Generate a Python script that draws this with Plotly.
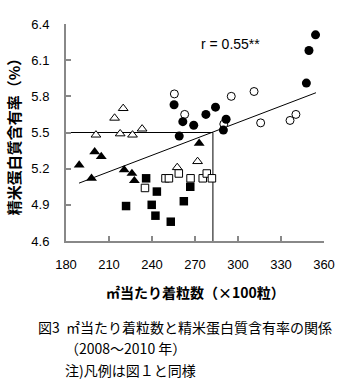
import plotly.graph_objects as go

# ---- data ----
open_tri_x = [200.9, 213.9, 219.9, 217.8, 226.4, 233.1, 257.6, 271.8]
open_tri_y = [5.48, 5.62, 5.70, 5.49, 5.48, 5.53, 5.21, 5.26]

fill_tri_x = [189.2, 200.0, 204.6, 197.8, 220.6, 226.0, 227.7, 272.9]
fill_tri_y = [5.23, 5.34, 5.30, 5.12, 5.19, 5.16, 5.10, 5.41]

fill_sq_x = [235.9, 243.4, 221.9, 239.8, 242.4, 253.1, 262.2, 266.7]
fill_sq_y = [5.12, 5.01, 4.89, 4.90, 4.81, 4.76, 4.93, 5.05]

open_sq_x = [235.1, 249.4, 251.8, 258.7, 266.9, 275.4, 278.2, 281.8]
open_sq_y = [5.04, 5.12, 5.12, 5.16, 5.12, 5.12, 5.16, 5.12]

open_ci_x = [255.6, 262.8, 295.3, 290.1, 311.2, 315.8, 336.3, 340.4]
open_ci_y = [5.82, 5.65, 5.80, 5.57, 5.84, 5.58, 5.60, 5.65]

fill_ci_x = [255.4, 261.5, 269.1, 277.6, 284.3, 291.7, 289.8, 259.0, 347.7, 349.5, 354.1]
fill_ci_y = [5.73, 5.59, 5.56, 5.65, 5.71, 5.61, 5.52, 5.47, 5.91, 6.18, 6.31]

trend_x = [189.1, 354.4]
trend_y = [5.08, 5.83]

ref_x = 282.5   # vertical reference value
ref_y = 5.5     # horizontal reference value

x_ticks = [180, 210, 240, 270, 300, 330, 360]
y_ticks = [4.6, 4.9, 5.2, 5.5, 5.8, 6.1, 6.4]
x_range = [180, 360]
y_range = [4.6, 6.4]

r_label = "r = 0.55**"
x_title = "㎡当たり着粒数（×100粒）"
y_title = "精米蛋白質含有率（%）"
caption = ["図3  ㎡当たり着粒数と精米蛋白質含有率の関係",
           "（2008～2010 年）",
           "注)凡例は図１と同様"]

# ---- figure ----
fig = go.Figure()

# reference lines
fig.add_trace(go.Scatter(x=[x_range[0], ref_x, ref_x], y=[ref_y, ref_y, y_range[0]],
                         mode="lines", line=dict(color="black", width=1),
                         hoverinfo="skip", showlegend=False))
# regression line
fig.add_trace(go.Scatter(x=trend_x, y=trend_y, mode="lines",
                         line=dict(color="black", width=1),
                         hoverinfo="skip", showlegend=False))

def add_pts(x, y, symbol, size, filled):
    fig.add_trace(go.Scatter(
        x=x, y=y, mode="markers", showlegend=False, cliponaxis=False,
        marker=dict(symbol=symbol, size=size,
                    color="black" if filled else "white",
                    line=dict(color="black", width=0 if filled else 1))))

add_pts(open_tri_x, open_tri_y, "triangle-up", 8.5, False)
add_pts(fill_tri_x, fill_tri_y, "triangle-up", 9.5, True)
add_pts(open_sq_x, open_sq_y, "square", 7.5, False)
add_pts(fill_sq_x, fill_sq_y, "square", 8.5, True)
add_pts(open_ci_x, open_ci_y, "circle", 8, False)
add_pts(fill_ci_x, fill_ci_y, "circle", 9, True)

axis_color = "#888888"
tick_font = dict(family="Liberation Sans, Arial, sans-serif", size=13, color="black")

fig.update_xaxes(range=x_range, tickvals=x_ticks, ticktext=[str(v) for v in x_ticks],
                 showgrid=False, zeroline=False, showline=True, linecolor=axis_color,
                 linewidth=2, ticks="inside", ticklen=5, tickwidth=1.5, tickcolor=axis_color,
                 tickfont=tick_font, ticklabelstandoff=10)
fig.update_yaxes(range=y_range, tickvals=y_ticks, ticktext=[f"{v:.1f}" for v in y_ticks],
                 showgrid=False, zeroline=False, showline=True, linecolor=axis_color,
                 linewidth=2, ticks="inside", ticklen=5, tickwidth=1.5, tickcolor=axis_color,
                 tickfont=tick_font, ticklabelstandoff=12)

cjk = "Noto Sans CJK JP, sans-serif"
W, H = 347, 389
L, R, T, B = 66, 17, 24, 148
pw, ph = W - L - R, H - T - B

def px2paper(px, py):
    return (px - L) / pw, (H - B - py) / ph

ann = []
xp, yp = px2paper(198, 292)
ann.append(dict(text=f"<b>{x_title}</b>", x=xp, y=yp, xref="paper", yref="paper",
                showarrow=False, xanchor="center", yanchor="middle",
                font=dict(family=cjk, size=14, color="black")))
xp, yp = px2paper(12, 133)
ann.append(dict(text=f"<b>{y_title}</b>", x=xp, y=yp, xref="paper", yref="paper",
                showarrow=False, xanchor="center", yanchor="middle", textangle=-90,
                font=dict(family=cjk, size=15, color="black")))
for txt, (cx, cy) in zip(caption, [(35, 327), (63, 348), (63, 370)]):
    xp, yp = px2paper(cx, cy)
    ann.append(dict(text=txt, x=xp, y=yp, xref="paper", yref="paper",
                    showarrow=False, xanchor="left", yanchor="middle",
                    font=dict(family=cjk, size=14, color="black")))
ann.append(dict(text=r_label, x=294.6, y=6.23, xref="x", yref="y", showarrow=False,
                xanchor="center", yanchor="middle",
                font=dict(family="Liberation Sans, Arial, sans-serif", size=14, color="black")))

fig.update_layout(width=W, height=H, margin=dict(l=L, r=R, t=T, b=B, pad=0),
                  paper_bgcolor="white", plot_bgcolor="white",
                  annotations=ann, showlegend=False)

fig.write_html("out.html", config={"displayModeBar": False})
